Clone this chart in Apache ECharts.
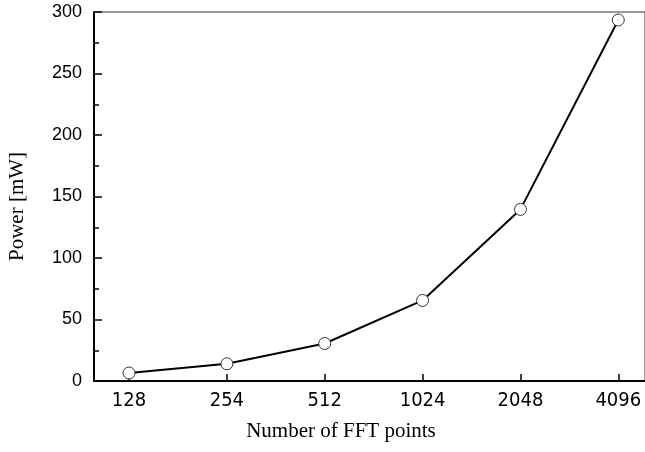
<!DOCTYPE html>
<html>
<head>
<meta charset="utf-8">
<script src="https://cdn.jsdelivr.net/npm/echarts@6/dist/echarts.min.js"></script>
<style>html,body{margin:0;padding:0;background:#fff}#c{width:645px;height:452px}</style>
</head>
<body>
<div id="c"></div>
<script>
const categories = ['128', '254', '512', '1024', '2048', '4096'];
const power = [6.5, 14, 30.5, 65.5, 139.5, 293.5];
const yTicks = [0, 50, 100, 150, 200, 250, 300];

const idx = categories.map((c, i) => i);
const chart = echarts.init(document.getElementById('c'));
chart.setOption({
  animation: false,
  grid: { left: 94, top: 12, right: 0, bottom: 71, show: true, borderColor: '#333', borderWidth: 1, containLabel: false, outerBoundsMode: 'none' },
  xAxis: {
    type: 'value',
    min: -0.358, max: 5.273,
    splitLine: { show: false },
    axisLine: { show: true, onZero: false, lineStyle: { color: '#000', width: 2 } },
    axisTick: { show: true, inside: true, length: 7, customValues: idx, lineStyle: { color: '#000', width: 1.5 } },
    axisLabel: { customValues: idx, formatter: v => categories[v], margin: 10, color: '#000', fontFamily: 'DejaVu Sans Condensed', fontSize: 20 },
    name: 'Number of FFT points',
    nameLocation: 'middle',
    nameGap: 40,
    nameTextStyle: { fontFamily: 'Liberation Serif', fontSize: 21, color: '#000', padding: [0, 57, 0, 0] }
  },
  yAxis: {
    type: 'value',
    min: 0, max: 300, interval: 50,
    splitLine: { show: false },
    axisLine: { show: true, onZero: false, lineStyle: { color: '#000', width: 2 } },
    axisTick: { show: true, inside: true, length: 8, lineStyle: { color: '#000', width: 1.5 } },
    minorTick: { show: true, splitNumber: 2, length: 5, lineStyle: { color: '#000', width: 1.5 } },
    axisLabel: { customValues: yTicks, margin: 12, color: '#000', fontFamily: 'Liberation Sans', fontSize: 18 },
    name: 'Power [mW]',
    nameLocation: 'middle',
    nameGap: 66,
    nameTextStyle: { fontFamily: 'Liberation Serif', fontSize: 21, color: '#000', padding: [0, 20, 0, 0] }
  },
  series: [{
    type: 'line',
    data: power.map((v, i) => [i, v]),
    symbol: 'circle',
    symbolSize: 12,
    lineStyle: { color: '#000', width: 2 },
    itemStyle: { color: '#fff', borderColor: '#333', borderWidth: 1 }
  }]
});
</script>
</body>
</html>
